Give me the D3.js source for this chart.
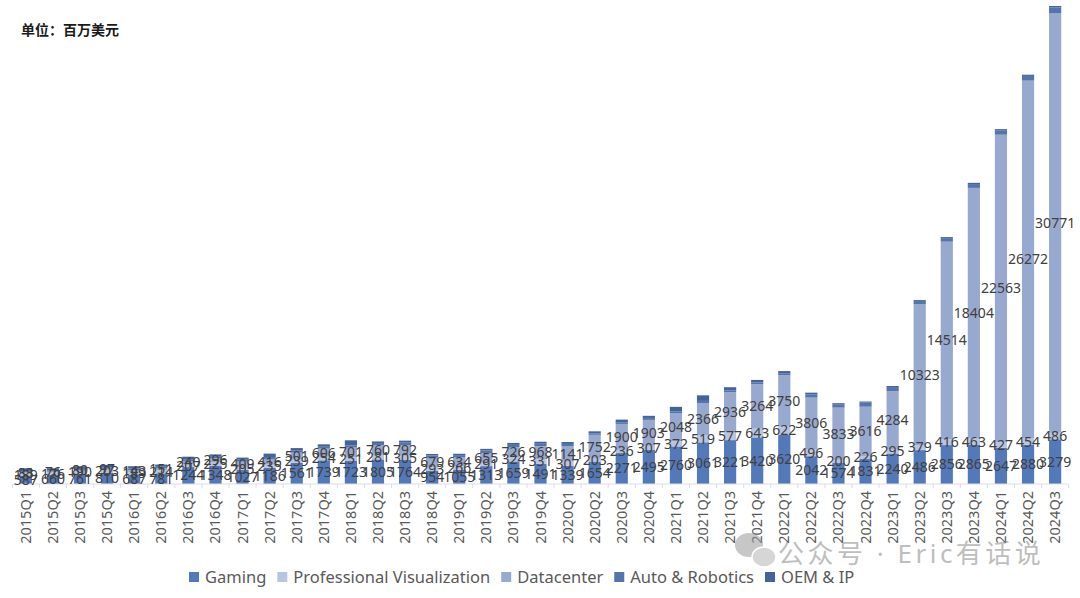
<!DOCTYPE html>
<html>
<head>
<meta charset="utf-8">
<script src="https://cdn.jsdelivr.net/npm/d3@7"></script>
<style>
  body { margin: 0; background: #fff; }
  #chart { width: 1080px; height: 598px; }
</style>
</head>
<body>
<div id="chart"></div>
<script>
const quarters = ['2015Q1','2015Q2','2015Q3','2015Q4','2016Q1','2016Q2','2016Q3','2016Q4',
  '2017Q1','2017Q2','2017Q3','2017Q4','2018Q1','2018Q2','2018Q3','2018Q4',
  '2019Q1','2019Q2','2019Q3','2019Q4','2020Q1','2020Q2','2020Q3','2020Q4',
  '2021Q1','2021Q2','2021Q3','2021Q4','2022Q1','2022Q2','2022Q3','2022Q4',
  '2023Q1','2023Q2','2023Q3','2023Q4','2024Q1','2024Q2','2024Q3'];

const gaming = [587,660,761,810,687,781,1244,1348,1027,1186,1561,1739,1723,1805,1764,954,
  1055,1313,1659,1491,1339,1654,2271,2495,2760,3061,3221,3420,3620,2042,1574,1831,
  2240,2486,2856,2865,2647,2880,3279];
const proViz = [189,176,190,203,189,214,207,225,205,235,239,254,251,281,305,293,
  266,291,324,331,307,203,236,307,372,519,577,643,622,496,200,226,
  295,379,416,463,427,454,486];
const datacenter = [83,76,80,97,143,151,240,296,409,416,501,606,701,760,792,679,
  634,655,726,968,1141,1752,1900,1903,2048,2366,2936,3264,3750,3806,3833,3616,
  4284,10323,14514,18404,22563,26272,30771];
const autoRobotics = [79,71,79,93,113,119,127,128,140,142,144,132,145,161,172,163,
  166,209,162,163,155,111,125,145,154,152,135,125,138,220,251,294,
  296,253,261,281,329,346,449];
const oemIp = [217,170,193,198,173,163,186,176,156,251,191,180,387,116,148,116,
  99,111,143,150,138,146,194,153,327,409,234,186,158,140,73,84,
  77,66,73,90,78,88,97];

const seriesNames = ['Gaming', 'Professional Visualization', 'Datacenter', 'Auto & Robotics', 'OEM & IP'];
const seriesValues = [gaming, proViz, datacenter, autoRobotics, oemIp];
const labelled = [true, true, true, false, false];

const colors = ['#5479b9', '#b6c5e1', '#98a9cf', '#5574ad', '#43649a'];
const font = '"Noto Sans", "Noto Sans CJK SC", sans-serif';

const W = 1080, H = 598;
const baseY = 484, topY = 6;

const rows = quarters.map((q, i) => {
  const r = { q };
  seriesNames.forEach((s, k) => r[s] = seriesValues[k][i]);
  return r;
});
const stack = d3.stack().keys(seriesNames)(rows);
const maxTotal = d3.max(rows, r => d3.sum(seriesNames, s => r[s]));

const x = d3.scaleBand().domain(quarters).range([13, 1068]).paddingInner(0.55).paddingOuter(0.25);
const y = d3.scaleLinear().domain([0, maxTotal]).range([baseY, topY]);

const svg = d3.select('#chart').append('svg')
  .attr('width', W).attr('height', H)
  .style('font-family', font);

// 单位
svg.append('text')
  .attr('x', 21).attr('y', 35)
  .attr('font-size', 14).attr('font-weight', 'bold').attr('fill', '#1a1a1a')
  .text('单位：百万美元');

// bars
const layers = svg.append('g').selectAll('g')
  .data(stack).join('g')
  .attr('fill', (d, i) => colors[i]);

layers.selectAll('rect')
  .data(d => d).join('rect')
  .attr('x', d => x(d.data.q))
  .attr('width', x.bandwidth())
  .attr('y', d => y(d[1]))
  .attr('height', d => y(d[0]) - y(d[1]));

// x axis
const axis = svg.append('g').attr('transform', `translate(0,${baseY})`);
axis.append('line')
  .attr('x1', 13).attr('x2', 1068)
  .attr('stroke', '#d9dde8').attr('stroke-width', 1);
const step = x.step();
axis.selectAll('.tick')
  .data(quarters.concat(['end'])).join('line')
  .attr('class', 'tick')
  .attr('x1', (d, i) => x(quarters[0]) - step * 0.275 + i * step)
  .attr('x2', (d, i) => x(quarters[0]) - step * 0.275 + i * step)
  .attr('y1', 0).attr('y2', 4)
  .attr('stroke', '#d9dde8');

svg.append('g').selectAll('text')
  .data(quarters).join('text')
  .attr('transform', d => `translate(${x(d) + x.bandwidth() / 2 + 5},491) rotate(-90)`)
  .attr('text-anchor', 'end')
  .attr('font-size', 14.5).attr('fill', '#595959')
  .text(d => d);

// 数据标签，放在每段中间
stack.forEach((layer, k) => {
  if (!labelled[k]) return;
  svg.append('g').selectAll('text')
    .data(layer).join('text')
    .attr('x', d => x(d.data.q) + x.bandwidth() / 2)
    .attr('y', d => (y(d[0]) + y(d[1])) / 2)
    .attr('dy', '0.35em')
    .attr('text-anchor', 'middle')
    .attr('font-size', 14).attr('fill', '#404040')
    .text(d => d[1] - d[0]);
});

// legend
const legend = svg.append('g').attr('transform', 'translate(189,578)');
let lx = 0;
seriesNames.forEach((s, i) => {
  const g = legend.append('g').attr('transform', `translate(${lx},0)`);
  g.append('rect').attr('x', 0).attr('y', -6).attr('width', 10).attr('height', 10).attr('fill', colors[i]);
  const t = g.append('text').attr('x', 16).attr('y', 0).attr('dy', '0.32em')
    .attr('font-size', 16.5).attr('fill', '#595959').text(s);
  lx += 16 + t.node().getComputedTextLength() + 11;
});

// watermark
const wm = svg.append('g').attr('opacity', 0.55);
wm.append('ellipse').attr('cx', 749).attr('cy', 545).attr('rx', 14).attr('ry', 12).attr('fill', '#9a9a9a');
wm.append('ellipse').attr('cx', 764).attr('cy', 557).attr('rx', 12).attr('ry', 10).attr('fill', '#b5b5b5').attr('stroke', '#fff').attr('stroke-width', 1.5);
wm.append('text')
  .attr('x', 778).attr('y', 563)
  .attr('font-size', 26).attr('letter-spacing', 3.5).attr('fill', '#8a8a8a')
  .text('公众号 · Eric有话说');
</script>
</body>
</html>
